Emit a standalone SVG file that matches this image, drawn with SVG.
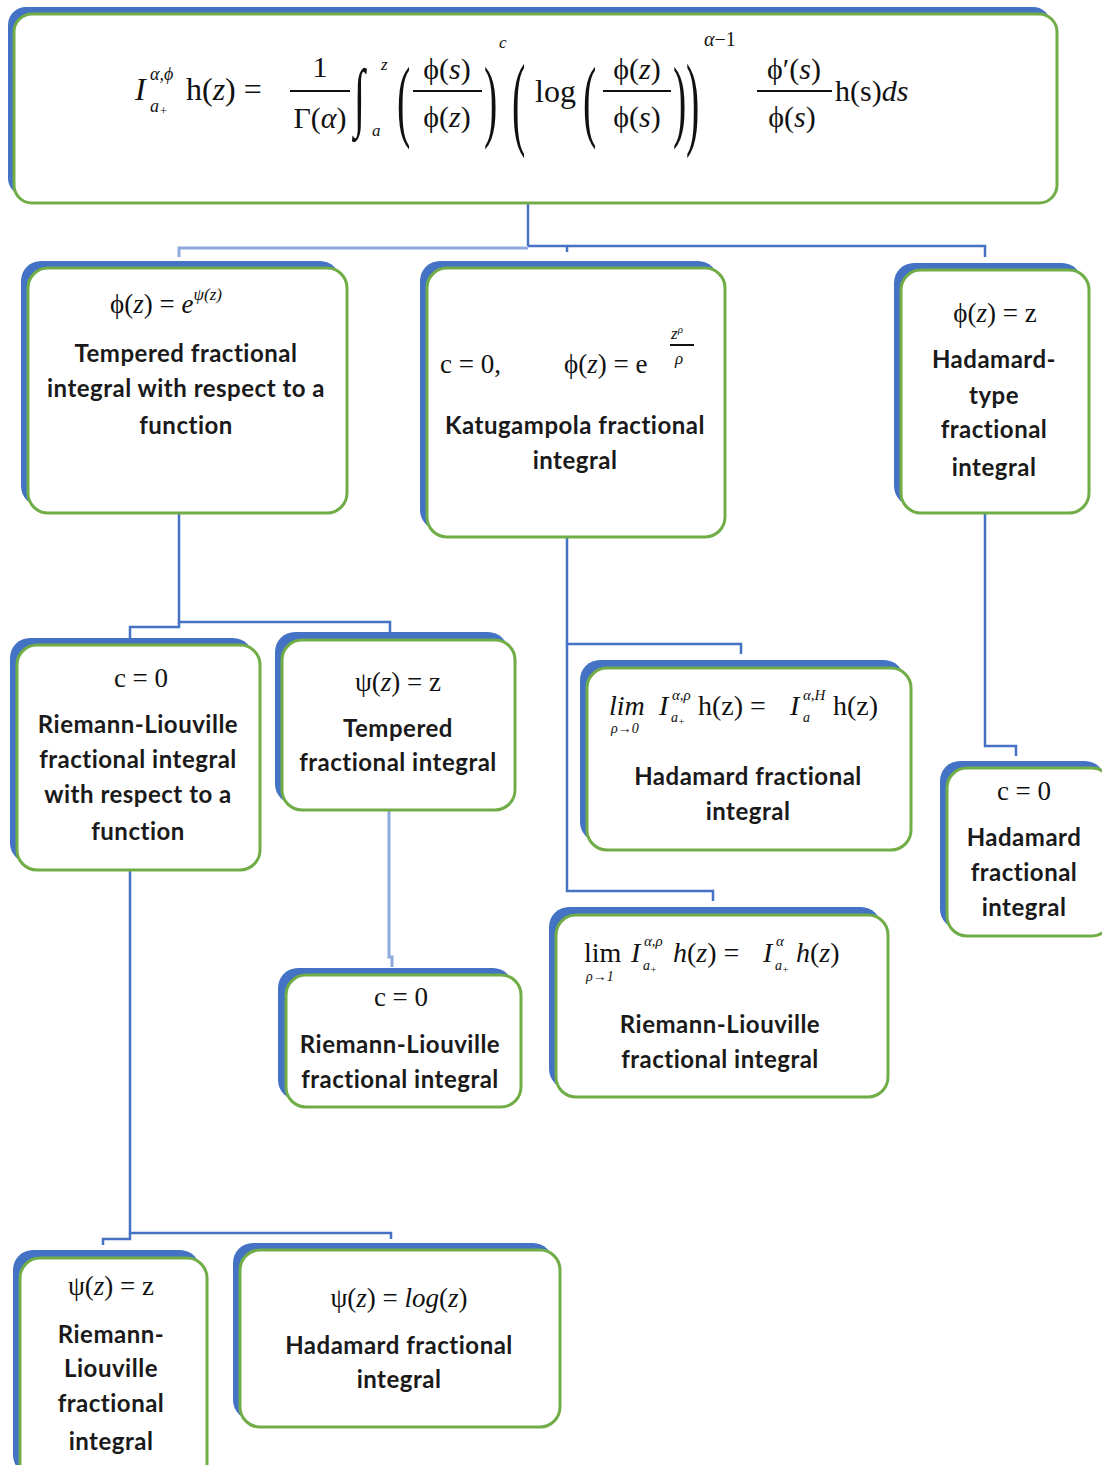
<svg xmlns="http://www.w3.org/2000/svg" width="1102" height="1465" viewBox="0 0 1102 1465">
<style>
.sh{fill:#4472C4;stroke:none}
.bx{fill:#fff;stroke:#70AD47;stroke-width:3}
.lb{font-family:Lato,"Liberation Sans",sans-serif;font-size:24px;letter-spacing:0.5px;font-weight:bold;fill:#1a1a1a;text-anchor:middle}
.m{font-family:"Liberation Serif","DejaVu Serif",serif;fill:#111}
.i{font-style:italic}
.cn{fill:none;stroke:#4472C4;stroke-width:2.5}
.cl{fill:none;stroke:#8FAADC;stroke-width:3}
.fl{stroke:#111;stroke-width:2}
</style>
<rect width="1102" height="1465" fill="#fff"/>
<g id="connectors">
<path class="cn" d="M528,203 V246"/>
<path class="cl" d="M179,257 V248 H528"/>
<path class="cn" d="M528,246 H985 V257"/>
<path class="cn" d="M567,246 V252"/>
<path class="cn" d="M179,513 V622 H390 V632"/>
<path class="cn" d="M179,622 V627 H130 V638"/>
<path class="cn" d="M567,537 V644 H741 V654"/>
<path class="cn" d="M567,644 V891 H713 V901"/>
<path class="cn" d="M985,513 V746 H1016 V756"/>
<path class="cn" d="M130,870 V1233 H391 V1239"/>
<path class="cn" d="M130,1233 V1239 H103 V1245"/>
<path class="cl" d="M389,810 V957 H392 V967"/>
</g>
<g id="n0">
<rect class="sh" x="8" y="7" width="1043" height="189" rx="18"/>
<rect class="bx" x="14" y="14" width="1043" height="189" rx="18"/>
<text class="m i" x="135" y="100" font-size="32">I</text>
<text class="m i" x="150" y="80" font-size="18">α,ϕ</text>
<text class="m i" x="150" y="112" font-size="18">a<tspan font-size="13" dy="3">+</tspan></text>
<text class="m" x="186" y="100" font-size="32">h(<tspan class="i">z</tspan>) =</text>
<text class="m" x="320" y="77" font-size="30" text-anchor="middle">1</text>
<line class="fl" x1="290" y1="91" x2="350" y2="91"/>
<text class="m" x="320" y="128" font-size="30" text-anchor="middle">Γ(<tspan class="i">α</tspan>)</text>
<text class="m i" transform="translate(354,122) scale(1,1.9)" font-size="40">∫</text>
<text class="m i" x="381" y="70" font-size="17">z</text>
<text class="m i" x="372" y="136" font-size="17">a</text>
<text class="m" transform="translate(397,130) scale(1,2.3)" font-size="40">(</text>
<text class="m" x="447" y="79" font-size="30" text-anchor="middle">ϕ(<tspan class="i">s</tspan>)</text>
<line class="fl" x1="413" y1="91" x2="482" y2="91"/>
<text class="m" x="447" y="127" font-size="30" text-anchor="middle">ϕ(<tspan class="i">z</tspan>)</text>
<text class="m" transform="translate(484,130) scale(1,2.3)" font-size="40">)</text>
<text class="m i" x="499" y="48" font-size="17">c</text>
<text class="m" transform="translate(512,136) scale(1,2.6)" font-size="40">(</text>
<text class="m" x="535" y="102" font-size="32">log</text>
<text class="m" transform="translate(583,130) scale(1,2.3)" font-size="40">(</text>
<text class="m" x="637" y="79" font-size="30" text-anchor="middle">ϕ(<tspan class="i">z</tspan>)</text>
<line class="fl" x1="603" y1="91" x2="671" y2="91"/>
<text class="m" x="637" y="127" font-size="30" text-anchor="middle">ϕ(<tspan class="i">s</tspan>)</text>
<text class="m" transform="translate(673,130) scale(1,2.3)" font-size="40">)</text>
<text class="m" transform="translate(686,136) scale(1,2.6)" font-size="40">)</text>
<text class="m" x="704" y="46" font-size="20"><tspan class="i">α</tspan>−1</text>
<text class="m" x="794" y="79" font-size="30" text-anchor="middle">ϕ′(<tspan class="i">s</tspan>)</text>
<line class="fl" x1="757" y1="91" x2="832" y2="91"/>
<text class="m" x="792" y="127" font-size="30" text-anchor="middle">ϕ(<tspan class="i">s</tspan>)</text>
<text class="m" x="835" y="101" font-size="30">h(s)<tspan class="i">ds</tspan></text>
</g>
<g id="n1">
<rect class="sh" x="21" y="261" width="319" height="245" rx="20"/>
<rect class="bx" x="28" y="268" width="319" height="245" rx="20"/>
<text class="m" x="110" y="313" font-size="27">ϕ(<tspan class="i">z</tspan>) = <tspan class="i">e</tspan><tspan class="i" font-size="17" dy="-13">ψ(z)</tspan></text>
<text class="lb" x="186" y="362">Tempered fractional</text>
<text class="lb" x="186" y="397">integral with respect to a</text>
<text class="lb" x="186" y="434">function</text>
</g>
<g id="n2">
<rect class="sh" x="420" y="261" width="298" height="269" rx="20"/>
<rect class="bx" x="427" y="268" width="298" height="269" rx="20"/>
<text class="m" x="440" y="373" font-size="27">c = 0,</text>
<text class="m" x="564" y="373" font-size="27">ϕ(<tspan class="i">z</tspan>) = e</text>
<text class="m i" x="671" y="339" font-size="17">z<tspan font-size="11" dy="-6">ρ</tspan></text>
<line class="fl" x1="670" y1="345" x2="694" y2="345"/>
<text class="m i" x="675" y="364" font-size="17">ρ</text>
<text class="lb" x="575" y="434">Katugampola fractional</text>
<text class="lb" x="575" y="469">integral</text>
</g>
<g id="n3">
<rect class="sh" x="894" y="263" width="188" height="243" rx="20"/>
<rect class="bx" x="901" y="270" width="188" height="243" rx="20"/>
<text class="m" x="995" y="322" font-size="27" text-anchor="middle">ϕ(<tspan class="i">z</tspan>) = z</text>
<text class="lb" x="994" y="368">Hadamard-</text>
<text class="lb" x="994" y="404">type</text>
<text class="lb" x="994" y="438">fractional</text>
<text class="lb" x="994" y="476">integral</text>
</g>
<g id="n4">
<rect class="sh" x="10" y="638" width="243" height="225" rx="20"/>
<rect class="bx" x="17" y="645" width="243" height="225" rx="20"/>
<text class="m" x="141" y="687" font-size="27" text-anchor="middle">c = 0</text>
<text class="lb" x="138" y="733">Riemann-Liouville</text>
<text class="lb" x="138" y="768">fractional integral</text>
<text class="lb" x="138" y="803">with respect to a</text>
<text class="lb" x="138" y="840">function</text>
</g>
<g id="n5">
<rect class="sh" x="275" y="632" width="233" height="172" rx="20"/>
<rect class="bx" x="282" y="640" width="233" height="170" rx="20"/>
<text class="m" x="398" y="691" font-size="27" text-anchor="middle">ψ(<tspan class="i">z</tspan>) = z</text>
<text class="lb" x="398" y="737">Tempered</text>
<text class="lb" x="398" y="771">fractional integral</text>
</g>
<g id="n6">
<rect class="sh" x="580" y="660" width="324" height="182" rx="20"/>
<rect class="bx" x="587" y="668" width="324" height="182" rx="20"/>
<text class="m i" x="609" y="715" font-size="28">lim</text>
<text class="m i" x="611" y="733" font-size="14">ρ→0</text>
<text class="m i" x="659" y="715" font-size="28">I</text>
<text class="m i" x="672" y="700" font-size="15">α,ρ</text>
<text class="m i" x="671" y="722" font-size="14">a<tspan font-size="10" dy="3">+</tspan></text>
<text class="m" x="698" y="715" font-size="28">h(z) = </text>
<text class="m i" x="790" y="715" font-size="28">I</text>
<text class="m i" x="803" y="700" font-size="15">α,H</text>
<text class="m i" x="803" y="722" font-size="14">a</text>
<text class="m" x="833" y="715" font-size="28">h(z)</text>
<text class="lb" x="748" y="785">Hadamard fractional</text>
<text class="lb" x="748" y="820">integral</text>
</g>
<g id="n7">
<rect class="sh" x="549" y="907" width="332" height="182" rx="20"/>
<rect class="bx" x="556" y="915" width="332" height="182" rx="20"/>
<text class="m" x="584" y="962" font-size="28">lim</text>
<text class="m i" x="586" y="981" font-size="14">ρ→1</text>
<text class="m i" x="631" y="962" font-size="28">I</text>
<text class="m i" x="644" y="946" font-size="15">α,ρ</text>
<text class="m i" x="643" y="970" font-size="14">a<tspan font-size="10" dy="3">+</tspan></text>
<text class="m i" x="673" y="962" font-size="28">h<tspan font-style="normal">(</tspan>z<tspan font-style="normal">) =</tspan></text>
<text class="m i" x="763" y="962" font-size="28">I</text>
<text class="m i" x="776" y="946" font-size="15">α</text>
<text class="m i" x="775" y="970" font-size="14">a<tspan font-size="10" dy="3">+</tspan></text>
<text class="m i" x="796" y="962" font-size="28">h<tspan font-style="normal">(</tspan>z<tspan font-style="normal">)</tspan></text>
<text class="lb" x="720" y="1033">Riemann-Liouville</text>
<text class="lb" x="720" y="1068">fractional integral</text>
</g>
<g id="n8">
<rect class="sh" x="940" y="761" width="165" height="168" rx="20"/>
<rect class="bx" x="947" y="768" width="165" height="168" rx="20"/>
<text class="m" x="1024" y="800" font-size="27" text-anchor="middle">c = 0</text>
<text class="lb" x="1024" y="846">Hadamard</text>
<text class="lb" x="1024" y="881">fractional</text>
<text class="lb" x="1024" y="916">integral</text>
</g>
<g id="n9">
<rect class="sh" x="278" y="968" width="235" height="132" rx="20"/>
<rect class="bx" x="286" y="975" width="235" height="132" rx="20"/>
<text class="m" x="401" y="1006" font-size="27" text-anchor="middle">c = 0</text>
<text class="lb" x="400" y="1053">Riemann-Liouville</text>
<text class="lb" x="400" y="1088">fractional integral</text>
</g>
<g id="n10">
<rect class="sh" x="13" y="1250" width="187" height="225" rx="20"/>
<rect class="bx" x="20" y="1258" width="187" height="225" rx="20"/>
<text class="m" x="111" y="1295" font-size="27" text-anchor="middle">ψ(<tspan class="i">z</tspan>) = z</text>
<text class="lb" x="111" y="1343">Riemann-</text>
<text class="lb" x="111" y="1377">Liouville</text>
<text class="lb" x="111" y="1412">fractional</text>
<text class="lb" x="111" y="1450">integral</text>
</g>
<g id="n11">
<rect class="sh" x="233" y="1243" width="320" height="177" rx="20"/>
<rect class="bx" x="240" y="1250" width="320" height="177" rx="20"/>
<text class="m" x="399" y="1307" font-size="27" text-anchor="middle">ψ(<tspan class="i">z</tspan>) = <tspan class="i">log</tspan>(<tspan class="i">z</tspan>)</text>
<text class="lb" x="399" y="1354">Hadamard fractional</text>
<text class="lb" x="399" y="1388">integral</text>
</g>
</svg>
